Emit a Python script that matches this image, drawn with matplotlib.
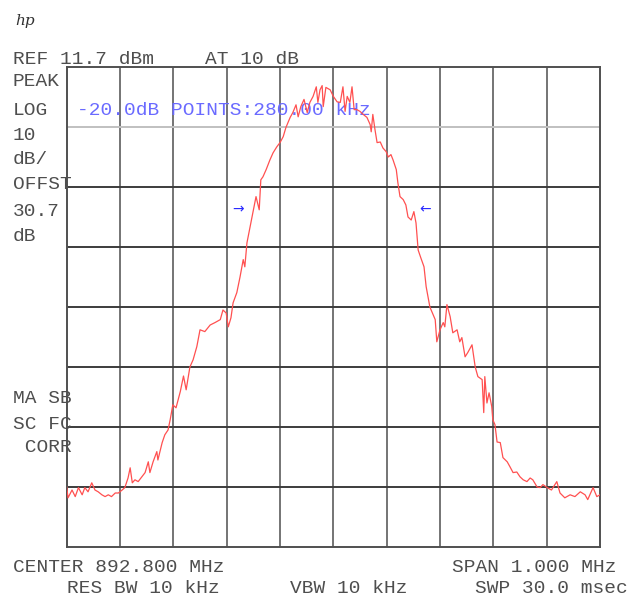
import matplotlib
matplotlib.use("Agg")
import matplotlib.pyplot as plt

# Trace: frequency offset from centre (kHz) and level (dBm)
freq_khz = [
    -500, -497.5, -490, -484, -478, -471, -466, -460, -453, -447, -441, -434,
    -428, -422, -416, -409, -403, -396, -391, -385, -381, -377, -372, -366,
    -359, -353, -347, -344, -338, -331, -329, -321, -316, -310, -306, -301,
    -295, -287, -281, -276, -269, -263, -256, -250, -241, -231, -222, -212,
    -207, -201, -197, -192, -188, -181, -175, -169, -166, -162, -156, -151,
    -145, -139, -136, -132, -126, -119, -113, -106, -100, -94, -89, -81,
    -76, -70, -66, -61, -55, -49, -44, -38, -32, -29, -25, -21,
    -19, -14, -6, 0, 7, 13, 18, 22, 26, 31, 35, 39,
    44, 50, 56, 63, 69, 71, 74, 78, 82, 88, 93, 99,
    103, 108, 112, 118, 121, 125, 131, 136, 140, 146, 151, 155,
    159, 164, 170, 174, 181, 191, 194, 200, 206, 209, 213, 219,
    224, 232, 237, 241, 247, 252, 260, 266, 271, 279, 282, 284,
    288, 292, 297, 299, 303, 307, 313, 318, 326, 331, 337, 344,
    350, 356, 363, 369, 374, 382, 388, 393, 401, 409, 419, 425,
    434, 444, 453, 463, 472, 477, 487, 494, 500,
]
level_dbm = [
    -58.3, -60.1, -58.8, -59.9, -58.4, -59.6, -58.4, -59.1, -57.6, -58.8, -59.1, -59.6,
    -59.9, -59.6, -59.9, -59.3, -59.3, -58.8, -58.4, -56.8, -55.1, -57.6, -57.1, -57.4,
    -56.6, -55.9, -54.1, -55.9, -54.1, -52.4, -53.8, -50.9, -49.6, -48.8, -47.1, -44.6,
    -45.1, -42.4, -39.8, -42.1, -38.3, -37.1, -34.9, -32.1, -32.4, -31.3, -30.9, -30.4,
    -28.8, -29.3, -31.6, -30.1, -27.6, -25.9, -23.3, -20.4, -21.6, -17.6, -14.9, -12.6,
    -9.9, -12.1, -7.1, -6.6, -5.4, -3.8, -2.6, -1.6, -0.9, 0.1, 1.6, 3.3,
    4.1, 5.4, 3.4, 5.1, 6.3, 4.1, 5.8, 6.8, 8.4, 5.8, 7.9, 8.6,
    5.1, 8.3, 7.9, 6.8, 5.9, 5.8, 8.4, 4.3, 6.8, 5.8, 8.4, 4.6,
    4.6, 4.3, 3.8, 3.3, 2.1, 0.9, 3.8, 1.3, -0.9, -0.8, -1.8, -2.4,
    -3.3, -2.9, -3.8, -5.4, -7.6, -9.9, -10.4, -11.3, -13.3, -13.8, -12.4, -14.3,
    -18.8, -20.1, -21.6, -24.9, -28.3, -30.4, -34.1, -32.1, -30.9, -31.6, -27.9, -29.9,
    -32.6, -32.1, -34.1, -33.4, -36.6, -35.9, -34.6, -38.3, -39.9, -40.4, -45.9, -39.9,
    -44.3, -42.6, -44.9, -47.1, -47.9, -50.8, -50.9, -53.4, -54.1, -54.9, -55.9, -55.8,
    -56.6, -57.1, -57.4, -56.8, -57.1, -58.3, -58.4, -57.9, -58.4, -58.8, -57.4, -59.3,
    -60.1, -59.6, -59.9, -59.1, -59.6, -60.4, -58.4, -59.9, -59.6,
]

# Instrument settings
ref_level = 11.7       # dBm, top graticule line
db_per_div = 10
n_ydiv = 8
span_khz = 1000
n_xdiv = 10

# -20 dB bandwidth markers (kHz offset, dBm)
marker_left = (-178, -12.0)
marker_right = (172, -12.0)

W, H = 628, 600
fig = plt.figure(figsize=(W / 100, H / 100), dpi=100)
fig.patch.set_facecolor("white")

ax = fig.add_axes([66.7 / W, 1 - 547 / H, (600 - 66.7) / W, (547 - 67) / H])
bottom = ref_level - n_ydiv * db_per_div
ax.set_xlim(-span_khz / 2, span_khz / 2)
ax.set_ylim(bottom, ref_level)
ax.set_xticks([])
ax.set_yticks([])
for s in ax.spines.values():
    s.set_color("#505050")
    s.set_linewidth(1.4)

# Graticule
for i in range(1, n_xdiv):
    ax.axvline(-span_khz / 2 + i * span_khz / n_xdiv, color="#747474", lw=1.4, zorder=1)
for i in range(1, n_ydiv):
    y = ref_level - i * db_per_div
    col = "#c0c0c0" if i == 1 else "#3c3c3c"
    ax.axhline(y, color=col, lw=1.4, zorder=1)

mono = "Liberation Mono"
blue = "#6a6aff"
ax.text(-500 + (77 - 66.7) * 1.875, ref_level - (115 - 67) / 6, "-20.0dB POINTS:280.00 kHz",
        family=mono, fontsize=14, color=blue, va="baseline", ha="left", zorder=2)

# Trace
ax.plot(freq_khz, level_dbm, color="#ff5050", lw=0.9, zorder=3, solid_joinstyle="round")

# Bandwidth markers
ax.text(marker_left[0], marker_left[1], "\u2192", color="#2a2aff", fontsize=10,
        family="DejaVu Sans", ha="center", va="center", zorder=4)
ax.text(marker_right[0], marker_right[1], "\u2190", color="#2a2aff", fontsize=10,
        family="DejaVu Sans", ha="center", va="center", zorder=4)

grey = "#4e4e4e"


def label(x, y, s, **kw):
    fig.text(x / W, 1 - y / H, s, family=mono, fontsize=14, color=grey,
             va="baseline", ha="left", **kw)


fig.text(15 / W, 1 - 25 / H, "hp", family="DejaVu Serif", fontstyle="italic",
         fontsize=11, color="#303030", va="baseline", ha="left")

label(13, 64, "REF 11.7 dBm")
label(205, 64, "AT 10 dB")
label(13, 86, "PEAK")
label(13, 115, "LOG")
label(13, 140, "10")
label(13, 164, "dB/")
label(13, 189, "OFFST")
label(13, 216, "30.7")
label(13, 241, "dB")
label(13, 403, "MA SB")
label(13, 429, "SC FC")
label(13, 452, " CORR")
label(13, 572, "CENTER 892.800 MHz")
label(67, 593, "RES BW 10 kHz")
label(290, 593, "VBW 10 kHz")
label(452, 572, "SPAN 1.000 MHz")
label(475, 593, "SWP 30.0 msec")

fig.savefig("out.png", dpi=100, facecolor="white")
